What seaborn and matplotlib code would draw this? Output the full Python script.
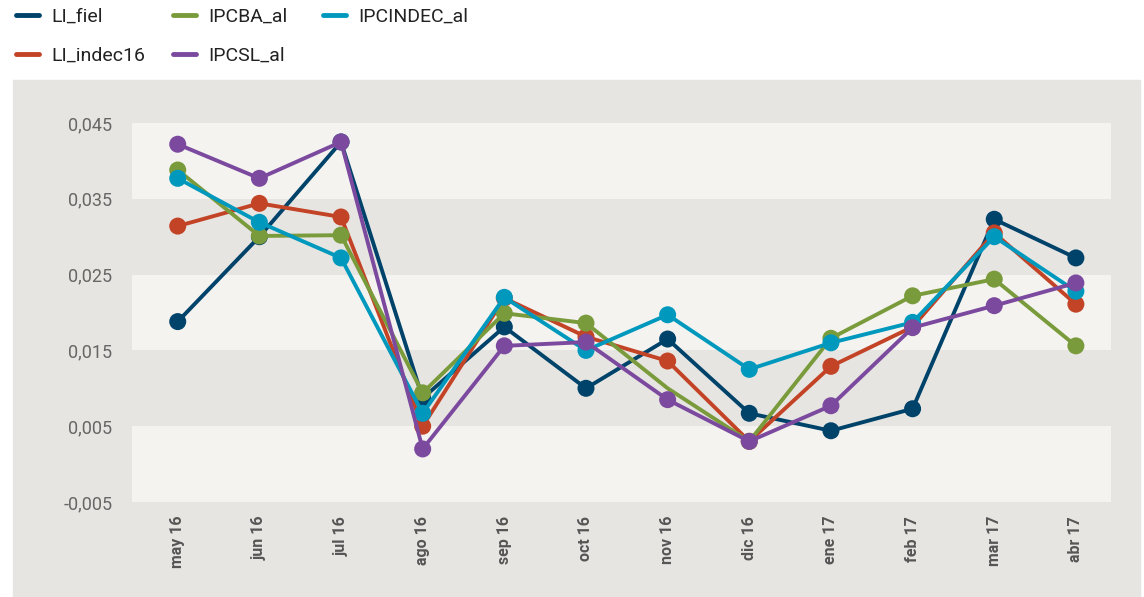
import numpy as np
import pandas as pd
import matplotlib
matplotlib.use("Agg")
import matplotlib.pyplot as plt
from matplotlib.patches import Rectangle
import seaborn as sns

months = ["may 16", "jun 16", "jul 16", "ago 16", "sep 16", "oct 16",
          "nov 16", "dic 16", "ene 17", "feb 17", "mar 17", "abr 17"]

li_fiel = [0.0188, 0.0300, 0.0425, 0.0087, 0.0181, 0.0100, 0.0165, 0.0067, 0.0044, 0.0073, 0.0323, 0.0272]
li_indec16 = [0.0314, 0.0344, 0.0326, 0.0050, 0.0219, 0.0168, 0.0136, 0.0030, 0.0129, 0.0181, 0.0305, 0.0211]
ipcba_al = [0.0388, 0.0301, 0.0302, 0.0094, 0.0199, 0.0186, 0.0100, 0.0030, 0.0166, 0.0222, 0.0244, 0.0156]
ipcindec_al = [0.0377, 0.0319, 0.0272, 0.0067, 0.0220, 0.0150, 0.0197, 0.0125, 0.0160, 0.0187, 0.0300, 0.0228]
ipcsl_al = [0.0422, 0.0377, 0.0425, 0.0020, 0.0156, 0.0161, 0.0085, 0.0030, 0.0077, 0.0180, 0.0209, 0.0239]

series = {"LI_fiel": li_fiel, "LI_indec16": li_indec16, "IPCBA_al": ipcba_al,
          "IPCSL_al": ipcsl_al, "IPCINDEC_al": ipcindec_al}
draw_order = ["LI_fiel", "LI_indec16", "IPCBA_al", "IPCINDEC_al", "IPCSL_al"]
colors = {"LI_fiel": "#00436a", "LI_indec16": "#c34326", "IPCBA_al": "#7a9b3c",
          "IPCINDEC_al": "#0099bd", "IPCSL_al": "#7b4a9f"}

rows = []
for name, vals in series.items():
    for i, v in enumerate(vals):
        rows.append({"serie": name, "x": i, "mes": months[i], "valor": v})
df = pd.DataFrame(rows)

# green point in nov has no visible marker in the original
pts = df[~((df.serie == "IPCBA_al") & (df.mes == "nov 16"))]

sns.set_style("white")
plt.rcParams["font.family"] = ["Roboto", "DejaVu Sans"]

fig = plt.figure(figsize=(11.44, 5.97), dpi=100)
fig.patch.set_facecolor("white")
fig.patches.append(Rectangle((13 / 1144, 0), 1127 / 1144, 517 / 597,
                             transform=fig.transFigure, color="#e7e5e1", zorder=-1))
ax = fig.add_axes([132 / 1144, 1 - 502 / 597, 979 / 1144, 379 / 597])
ax.set_facecolor("#e7e5e1")
for lo in [-0.005, 0.015, 0.035]:
    ax.axhspan(lo, lo + 0.01, color="#f4f3f0", zorder=0, lw=0)

for i, name in enumerate(draw_order):
    sub = df[df.serie == name]
    sns.lineplot(data=sub, x="x", y="valor", color=colors[name], lw=2.8,
                 ax=ax, label=name, zorder=2 + i, legend=False)
    sns.scatterplot(data=pts[pts.serie == name], x="x", y="valor", color=colors[name],
                    s=150, edgecolor="none", ax=ax, zorder=2 + i, legend=False)

ax.set_xlim(-0.56, 11.43)
ax.set_ylim(-0.005, 0.045)
ax.set_yticks([-0.005, 0.005, 0.015, 0.025, 0.035, 0.045])
ax.set_yticklabels([f"{t:.3f}".replace(".", ",") for t in ax.get_yticks()],
                   fontsize=13, color="#666666")
ax.set_xticks(range(len(months)))
ax.set_xticklabels(months, rotation=90, fontsize=11.5, color="#555555", fontweight="bold")
ax.tick_params(length=0, pad=10)
ax.tick_params(axis="y", pad=14)
ax.set_xlabel("")
ax.set_ylabel("")
for s in ax.spines.values():
    s.set_visible(False)

# legend: three columns placed like the original
handles = {l.get_label(): l for l in ax.get_lines()}
columns = [(["LI_fiel", "LI_indec16"], 16), (["IPCBA_al", "IPCSL_al"], 173),
           (["IPCINDEC_al"], 323)]
for names, xpix in columns:
    leg = fig.legend([handles[n] for n in names], names, loc="upper left",
                     bbox_to_anchor=(xpix / 1144, 1 - 8 / 597), frameon=False,
                     fontsize=14, handlelength=1.2, handletextpad=0.6,
                     labelspacing=1.05, borderaxespad=0, borderpad=0)
    for line in leg.get_lines():
        line.set_linewidth(3.5)
    for t in leg.get_texts():
        t.set_color("#222222")

fig.savefig("out.png", dpi=100, facecolor="white")
